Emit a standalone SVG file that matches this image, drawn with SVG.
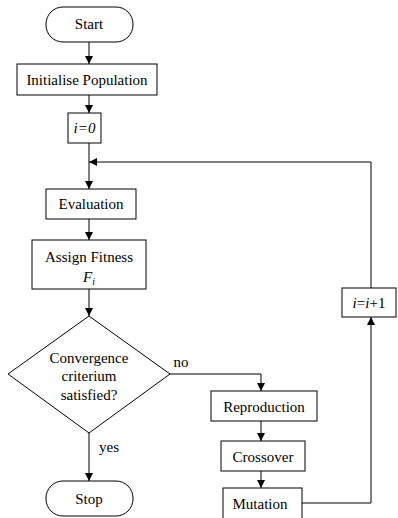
<svg xmlns="http://www.w3.org/2000/svg" width="398" height="518" viewBox="0 0 398 518">
  <defs>
    <marker id="arrow" viewBox="0 0 10 10" refX="10" refY="5" markerWidth="8" markerHeight="8" markerUnits="userSpaceOnUse" orient="auto">
      <path d="M0,0 L10,5 L0,10 z" fill="#000"/>
    </marker>
    <style>
      .box { fill: #fff; stroke: #000; stroke-width: 1; }
      .lbl { font-family: 'Liberation Serif', 'DejaVu Serif', serif; font-size: 15px; fill: #000; text-anchor: middle; }
      .it { font-style: italic; }
      .edge { fill: none; stroke: #000; stroke-width: 1; }
      .arr { marker-end: url(#arrow); }
    </style>
  </defs>
  <rect width="398" height="518" fill="#fff"/>

  <g id="connectors">
    <path class="edge arr" d="M89,42 V64"/>
    <path class="edge arr" d="M89,95 V113"/>
    <path class="edge arr" d="M89,143 V189"/>
    <path class="edge arr" d="M371,162 H89"/>
    <path class="edge arr" d="M89,219 V240"/>
    <path class="edge arr" d="M89,289 V316"/>
    <path class="edge arr" d="M89,433 V481"/>
    <path class="edge arr" d="M169,374 H261 V391"/>
    <path class="edge arr" d="M261,421 V441"/>
    <path class="edge arr" d="M261,471 V488"/>
    <path class="edge arr" d="M298,503 H371 V317"/>
    <path class="edge" d="M371,288 V162"/>
    <text class="lbl" x="181" y="367">no</text>
    <text class="lbl" x="109" y="452">yes</text>
  </g>

  <g id="start">
    <rect class="box" x="46" y="7" width="87" height="35" rx="17" ry="17"/>
    <text class="lbl" x="89" y="29">Start</text>
  </g>
  <g id="init">
    <rect class="box" x="17" y="64" width="140" height="31"/>
    <text class="lbl" x="87" y="85">Initialise Population</text>
  </g>
  <g id="i0">
    <rect class="box" x="68" y="113" width="33" height="30"/>
    <text class="lbl it" x="84.5" y="133">i=0</text>
  </g>
  <g id="evaluation">
    <rect class="box" x="46" y="189" width="90" height="30"/>
    <text class="lbl" x="91" y="209">Evaluation</text>
  </g>
  <g id="fitness">
    <rect class="box" x="32" y="240" width="114" height="49"/>
    <text class="lbl" x="89" y="262">Assign Fitness</text>
    <text class="lbl it" x="89" y="282">F<tspan font-size="10" dy="3">i</tspan></text>
  </g>
  <g id="convergence">
    <path class="box" d="M89,316 L170,374 L89,433 L8,374 Z"/>
    <text class="lbl" x="89" y="363">Convergence</text>
    <text class="lbl" x="89" y="381">criterium</text>
    <text class="lbl" x="89" y="400">satisfied?</text>
  </g>
  <g id="stop">
    <rect class="box" x="46" y="481" width="87" height="35" rx="17" ry="17"/>
    <text class="lbl" x="89" y="504">Stop</text>
  </g>
  <g id="reproduction">
    <rect class="box" x="211" y="391" width="106" height="30"/>
    <text class="lbl" x="264" y="412">Reproduction</text>
  </g>
  <g id="crossover">
    <rect class="box" x="221" y="441" width="84" height="30"/>
    <text class="lbl" x="263" y="462">Crossover</text>
  </g>
  <g id="mutation">
    <rect class="box" x="223" y="488" width="79" height="40"/>
    <text class="lbl" x="260" y="509">Mutation</text>
  </g>
  <g id="increment">
    <rect class="box" x="342" y="288" width="54" height="29"/>
    <text class="lbl" x="369" y="308"><tspan class="it">i</tspan>=<tspan class="it">i</tspan>+1</text>
  </g>
</svg>
